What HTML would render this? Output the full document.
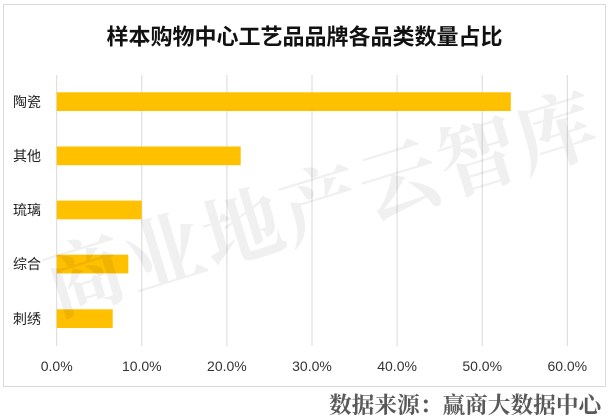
<!DOCTYPE html>
<html>
<head>
<meta charset="utf-8">
<style>
html,body{margin:0;padding:0;background:#fff;}
svg{display:block;}
</style>
</head>
<body>
<svg width="610" height="420" viewBox="0 0 610 420" xmlns="http://www.w3.org/2000/svg">
  <rect x="0" y="0" width="610" height="420" fill="#ffffff"/>
  <rect x="3.5" y="4.5" width="602" height="382" fill="#ffffff" stroke="#d9d9d9" stroke-width="1"/>

  <!-- title -->
  <text x="304.5" y="44.5" text-anchor="middle" font-family="'Liberation Sans','Noto Sans CJK SC',sans-serif" font-weight="bold" font-size="22" fill="#111">样本购物中心工艺品品牌各品类数量占比</text>

  <!-- gridlines -->
  <g stroke="#d9d9d9" stroke-width="1">
    <line x1="56.7" y1="75" x2="56.7" y2="346"/>
    <line x1="141.8" y1="75" x2="141.8" y2="346"/>
    <line x1="226.9" y1="75" x2="226.9" y2="346"/>
    <line x1="312" y1="75" x2="312" y2="346"/>
    <line x1="397.1" y1="75" x2="397.1" y2="346"/>
    <line x1="482.2" y1="75" x2="482.2" y2="346"/>
    <line x1="567.3" y1="75" x2="567.3" y2="346"/>
  </g>

  <!-- bars -->
  <g fill="#FFC000">
    <rect x="56.7" y="92.3" width="454.1" height="18.7"/>
    <rect x="56.7" y="146.5" width="184" height="18.7"/>
    <rect x="56.7" y="200.6" width="85" height="18.7"/>
    <rect x="56.7" y="254.7" width="71.6" height="18.7"/>
    <rect x="56.7" y="309.3" width="56" height="18.7"/>
  </g>

  <!-- category labels -->
  <g font-family="'Liberation Sans','Noto Sans CJK SC',sans-serif" font-size="14" fill="#222">
    <text x="13" y="106.8">陶瓷</text>
    <text x="13" y="160.8">其他</text>
    <text x="13" y="215">琉璃</text>
    <text x="13" y="269">综合</text>
    <text x="13" y="323.8">刺绣</text>
  </g>

  <!-- tick labels -->
  <g font-family="'Liberation Sans',sans-serif" font-size="14" fill="#333" text-anchor="middle">
    <text x="56.7" y="371">0.0%</text>
    <text x="141.8" y="371">10.0%</text>
    <text x="226.9" y="371">20.0%</text>
    <text x="312" y="371">30.0%</text>
    <text x="397.1" y="371">40.0%</text>
    <text x="482.2" y="371">50.0%</text>
    <text x="567.3" y="371">60.0%</text>
  </g>

  <!-- watermark -->
  <g transform="translate(322,205) rotate(-17)">
    <text x="0" y="28" text-anchor="middle" font-family="'Liberation Serif','Noto Serif CJK SC',serif" font-weight="bold" font-size="80" fill="#000" fill-opacity="0.06" letter-spacing="2">商业地产云智库</text>
  </g>

  <!-- source -->
  <text x="329" y="413" font-family="'Liberation Serif','Noto Serif CJK SC',serif" font-weight="bold" font-size="22.7" fill="#595959">数据来源：赢商大数据中心</text>
</svg>
</body>
</html>
